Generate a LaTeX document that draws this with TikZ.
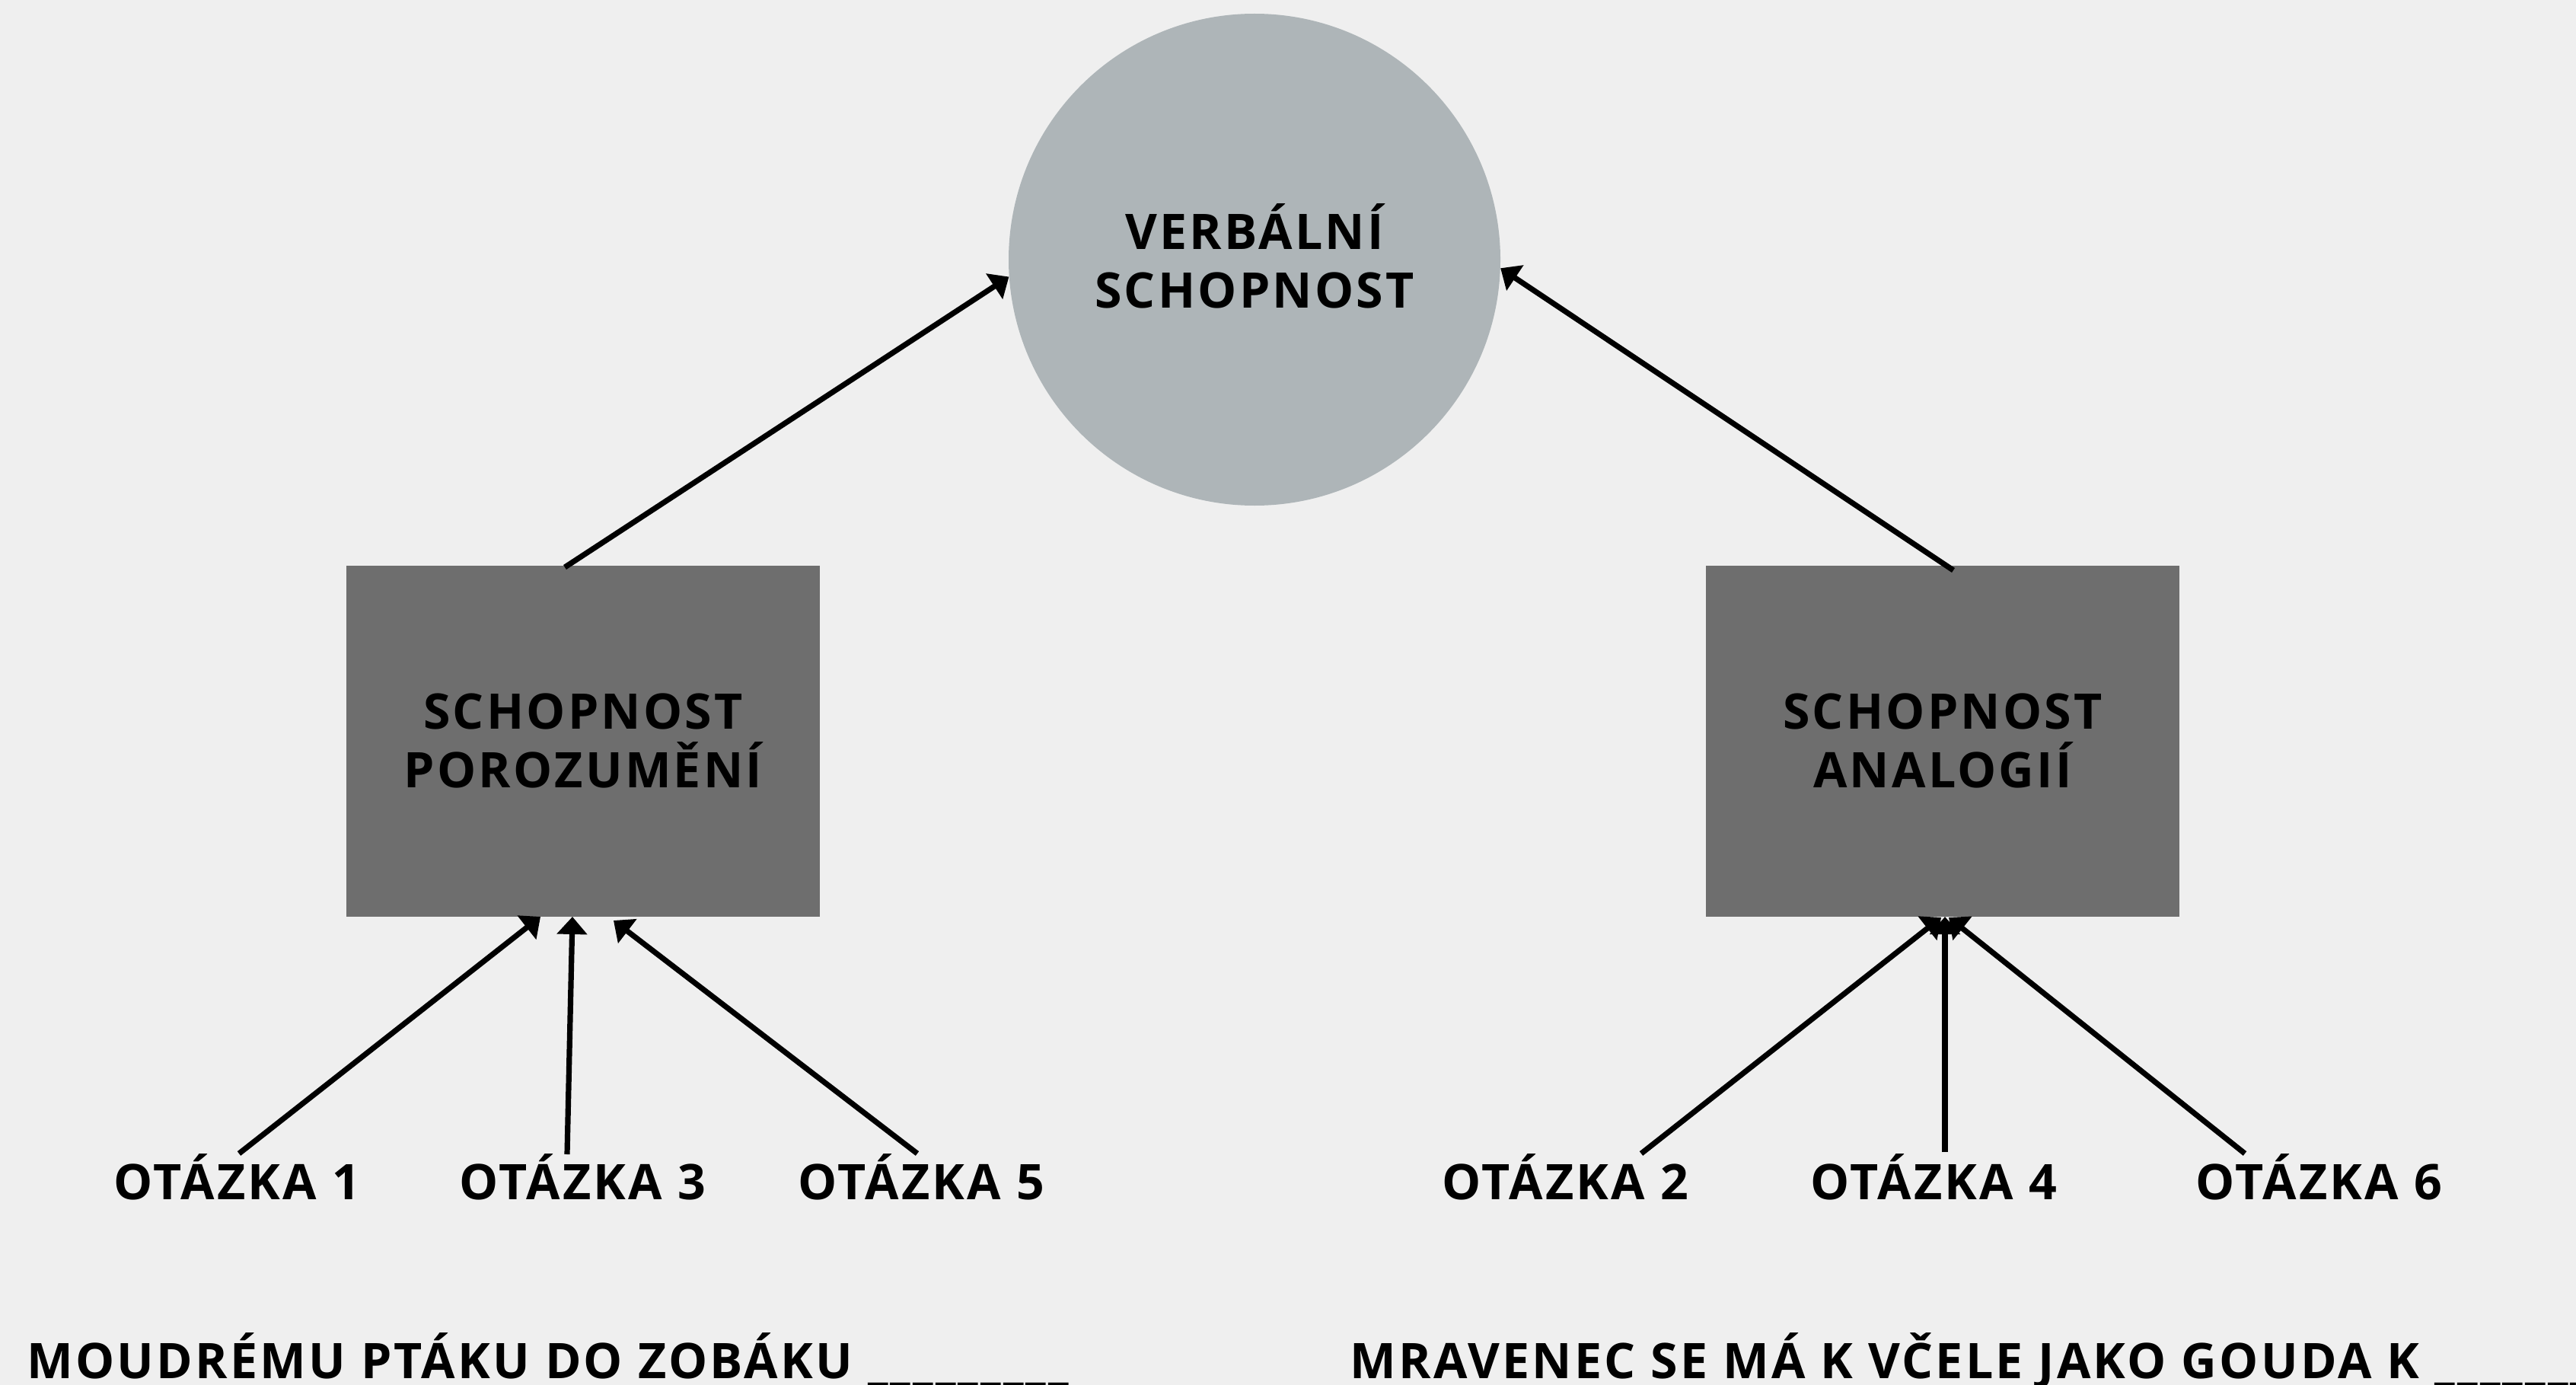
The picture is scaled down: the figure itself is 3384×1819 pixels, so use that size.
\documentclass[tikz,border=0pt]{standalone}
\usepackage{fontspec}
\setmainfont{Open Sans}[LetterSpace=5]
\usetikzlibrary{arrows.meta}
\definecolor{bgc}{HTML}{EFEFEF}
\definecolor{circc}{HTML}{AEB5B8}
\definecolor{boxc}{HTML}{6E6E6E}
\tikzset{
  lbl/.style={font=\fontsize{32.2}{38.5}\selectfont\bfseries, text=black, inner sep=0pt},
  mainc/.style={circle, fill=circc, minimum size=323pt, inner sep=0pt, align=center, lbl},
  skill/.style={rectangle, fill=boxc, minimum width=311pt, minimum height=230.5pt, inner sep=0pt, align=center, lbl},
  arr/.style={line width=3.6pt, -{Triangle[length=11.5pt,width=19.5pt]}},
}
\begin{document}
\begin{tikzpicture}[x=0.5pt,y=-0.5pt]
\useasboundingbox (0,0) rectangle (3384,1819);
\clip (0,0) rectangle (3384,1819);
\fill[bgc] (0,0) rectangle (3384,1819);

\node[mainc] (vs) at (1648,341) {VERBÁLNÍ\\SCHOPNOST\rule[-5pt]{0pt}{5pt}};
\node[skill] (sp) at (766,973) {SCHOPNOST\\POROZUMĚNÍ};
\node[skill] (sa) at (2552,973) {SCHOPNOST\\ANALOGIÍ};

\node[lbl, anchor=base] (q1) at (311,1575) {OTÁZKA 1};
\node[lbl, anchor=base] (q3) at (765,1575) {OTÁZKA 3};
\node[lbl, anchor=base] (q5) at (1210,1575) {OTÁZKA 5};
\node[lbl, anchor=base] (q2) at (2056,1575) {OTÁZKA 2};
\node[lbl, anchor=base] (q4) at (2540,1575) {OTÁZKA 4};
\node[lbl, anchor=base] (q6) at (3046,1575) {OTÁZKA 6};

\node[lbl, anchor=base west] (s1) at (35,1810) {MOUDRÉMU PTÁKU DO ZOBÁKU \_\_\_\_\_\_\_\_\_};
\node[lbl, anchor=base west] (s2) at (1773,1810) {MRAVENEC SE MÁ K VČELE JAKO GOUDA K \_\_\_\_\_\_\_\_\_};

% connector end points
\coordinate (spTop) at (742,745);
\coordinate (saTop) at (2566,749);
\coordinate (vsL) at (vs.184);
\coordinate (vsR) at (vs.-2);
\coordinate (t1) at (314,1515);
\coordinate (t3) at (745,1516);
\coordinate (t5) at (1205,1515);
\coordinate (h1) at (710,1204);
\coordinate (h3) at (752,1204);
\coordinate (h5) at (806,1209);
\coordinate (t2) at (2156,1515);
\coordinate (t4) at (2555,1513);
\coordinate (t6) at (2949,1515);
\coordinate (h2) at (2550,1205);
\coordinate (h4) at (2555,1204);
\coordinate (h6) at (2560,1205);

\draw[arr] (spTop) -- (vsL);
\draw[arr] (saTop) -- (vsR);
\draw[arr] (t1) -- (h1);
\draw[arr] (t3) -- (h3);
\draw[arr] (t5) -- (h5);
\draw[arr] (t2) -- (h2);
\draw[arr] (t4) -- (h4);
\draw[arr] (t6) -- (h6);
\end{tikzpicture}
\end{document}
